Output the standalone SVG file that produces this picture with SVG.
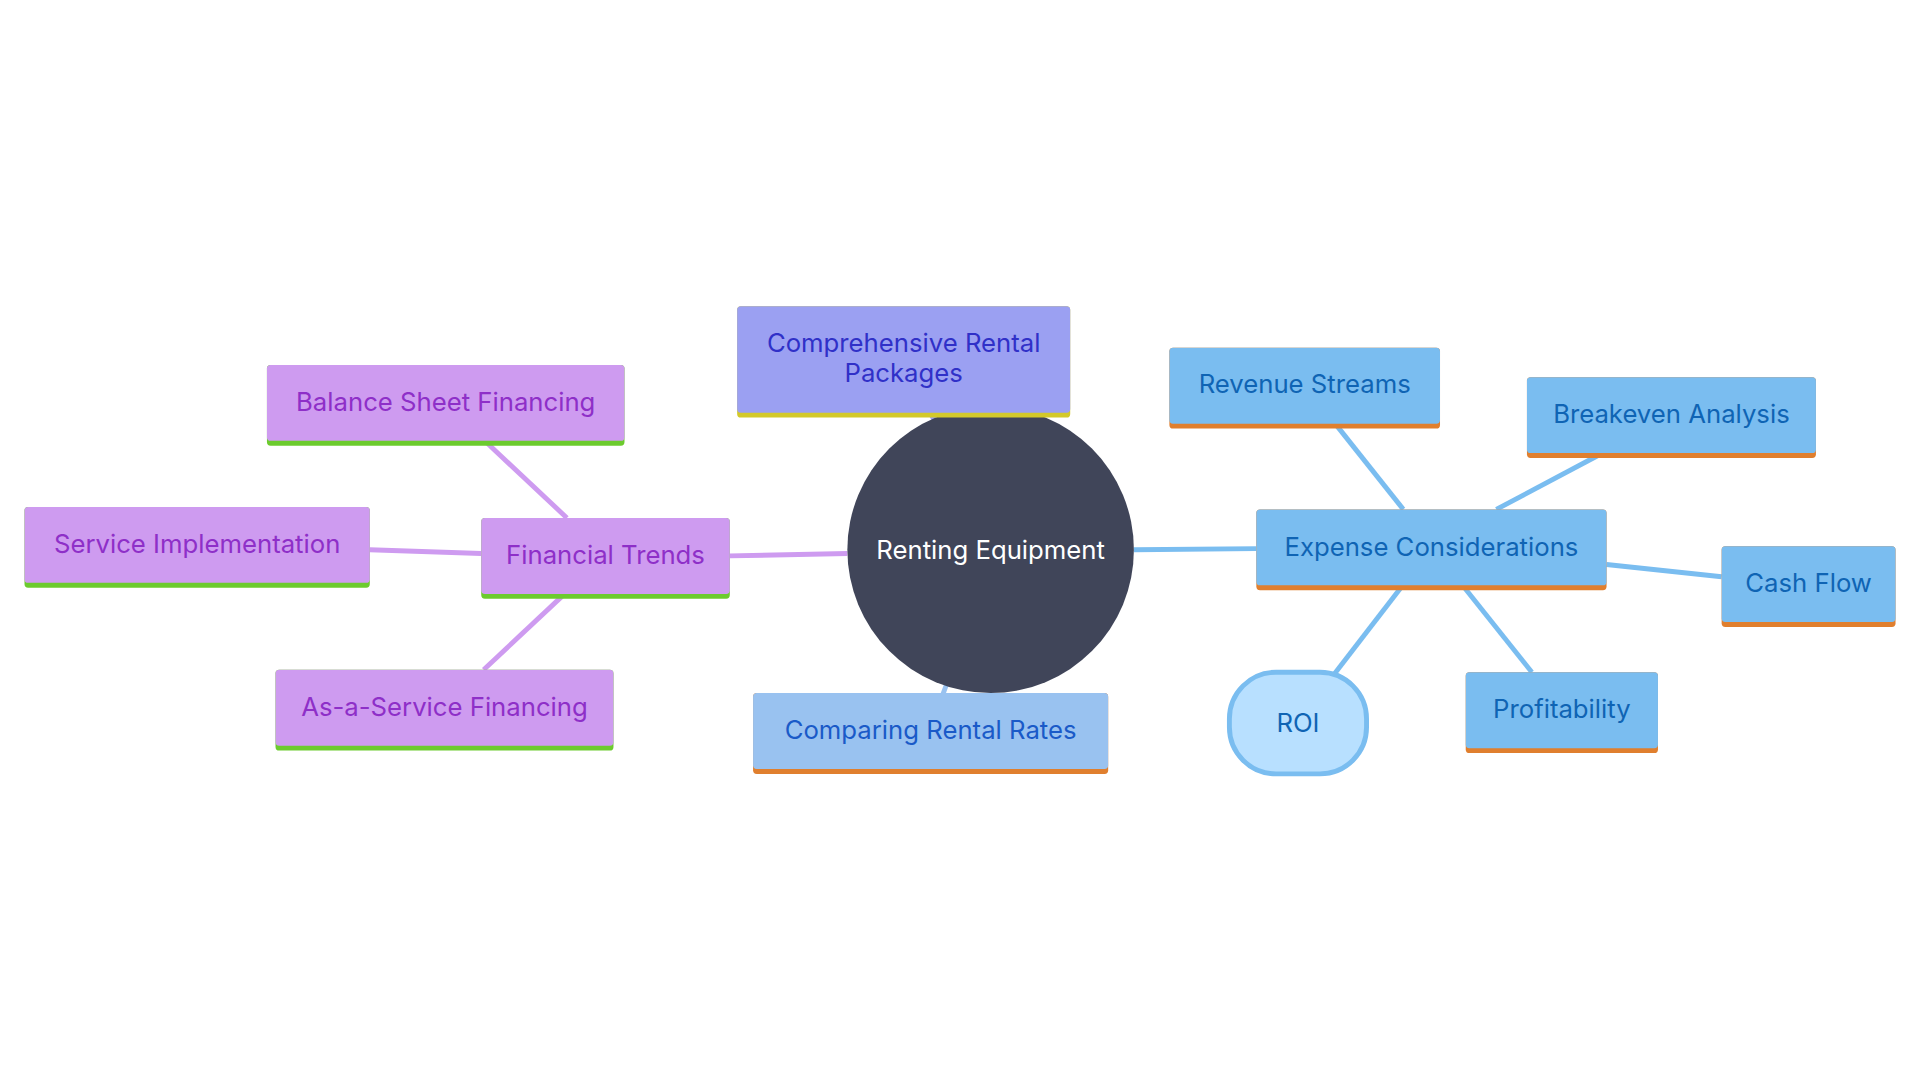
<svg xmlns="http://www.w3.org/2000/svg" width="1920" height="1080" viewBox="0 0 1920 1080">
<style>
text{font-family:Inter,"Open Sans",sans-serif;font-size:21px;text-anchor:middle;dominant-baseline:central}
.p rect.b{fill:#CE9BF0}.p rect.u{fill:#6CCB2E}.p text{fill:#8E2FC8}
.e rect.b{fill:#7ABDF0}.e rect.u{fill:#E07F2E}.e text{fill:#0F64B4}
.pl{stroke:#CE9BF0;stroke-width:4;fill:none}
.bl{stroke:#7ABDF0;stroke-width:4;fill:none}
</style>
<rect width="1920" height="1080" fill="#fff"/>
<g transform="scale(1.2245)">
<g id="connectors">
<line class="pl" x1="692" y1="452" x2="596" y2="454"/>
<line class="pl" x1="463" y1="423" x2="398" y2="362"/>
<line class="pl" x1="393" y1="452" x2="302" y2="449"/>
<line class="pl" x1="460" y1="486" x2="395" y2="547"/>
<line class="bl" x1="926" y1="449" x2="1026" y2="448"/>
<line class="bl" x1="1146" y1="416" x2="1092" y2="348"/>
<line class="bl" x1="1222" y1="416" x2="1305" y2="372"/>
<line class="bl" x1="1312" y1="461" x2="1406" y2="471"/>
<line class="bl" x1="1196" y1="480" x2="1251" y2="549"/>
<line class="bl" x1="1144" y1="480" x2="1090" y2="550"/>
<line stroke="#9BA0F2" stroke-width="4" x1="760" y1="338" x2="765" y2="346"/>
<line stroke="#99C2F0" stroke-width="4" x1="770" y1="567" x2="773" y2="559"/>
</g>
<g id="center"><circle cx="809" cy="449" r="117" fill="#404559"/><text x="809" y="449" fill="#fff">Renting Equipment</text></g>
<g id="ft" class="p"><rect class="u" x="393" y="423" width="203" height="66" rx="3"/><rect class="b" x="393" y="423" width="203" height="62" rx="3"/><text x="494.5" y="453">Financial Trends</text></g>
<g id="bsf" class="p"><rect class="u" x="218" y="298" width="292" height="66" rx="3"/><rect class="b" x="218" y="298" width="292" height="62" rx="3"/><text x="364" y="328">Balance Sheet Financing</text></g>
<g id="si" class="p"><rect class="u" x="20" y="414" width="282" height="66" rx="3"/><rect class="b" x="20" y="414" width="282" height="62" rx="3"/><text x="161" y="444">Service Implementation</text></g>
<g id="asf" class="p"><rect class="u" x="225" y="547" width="276" height="66" rx="3"/><rect class="b" x="225" y="547" width="276" height="62" rx="3"/><text x="363" y="577">As-a-Service Financing</text></g>
<g id="crp"><rect x="602" y="250" width="272" height="91" rx="3" fill="#D3C92A"/><rect x="602" y="250" width="272" height="87" rx="3" fill="#9BA0F2"/><text x="738" y="280" fill="#3030C8">Comprehensive Rental</text><text x="738" y="304" fill="#3030C8">Packages</text></g>
<g id="crr"><rect x="615" y="566" width="290" height="66" rx="3" fill="#E07F2E"/><rect x="615" y="566" width="290" height="62" rx="3" fill="#99C2F0"/><text x="760" y="596" fill="#1A5AC8">Comparing Rental Rates</text></g>
<g id="ec" class="e"><rect class="u" x="1026" y="416" width="286" height="66" rx="3"/><rect class="b" x="1026" y="416" width="286" height="62" rx="3"/><text x="1169" y="446">Expense Considerations</text></g>
<g id="rs" class="e"><rect class="u" x="955" y="284" width="221" height="66" rx="3"/><rect class="b" x="955" y="284" width="221" height="62" rx="3"/><text x="1065.5" y="313">Revenue Streams</text></g>
<g id="ba" class="e"><rect class="u" x="1247" y="308" width="236" height="66" rx="3"/><rect class="b" x="1247" y="308" width="236" height="62" rx="3"/><text x="1365" y="338">Breakeven Analysis</text></g>
<g id="cf" class="e"><rect class="u" x="1406" y="446" width="142" height="66" rx="3"/><rect class="b" x="1406" y="446" width="142" height="62" rx="3"/><text x="1477" y="476">Cash Flow</text></g>
<g id="pr" class="e"><rect class="u" x="1197" y="549" width="157" height="66" rx="3"/><rect class="b" x="1197" y="549" width="157" height="62" rx="3"/><text x="1275.5" y="579">Profitability</text></g>
<g id="roi"><rect x="1004" y="549" width="112" height="83" rx="38" fill="#B8E0FF" stroke="#7ABDF0" stroke-width="4"/><text x="1060" y="590" fill="#0F64B4">ROI</text></g>
</g>
</svg>
